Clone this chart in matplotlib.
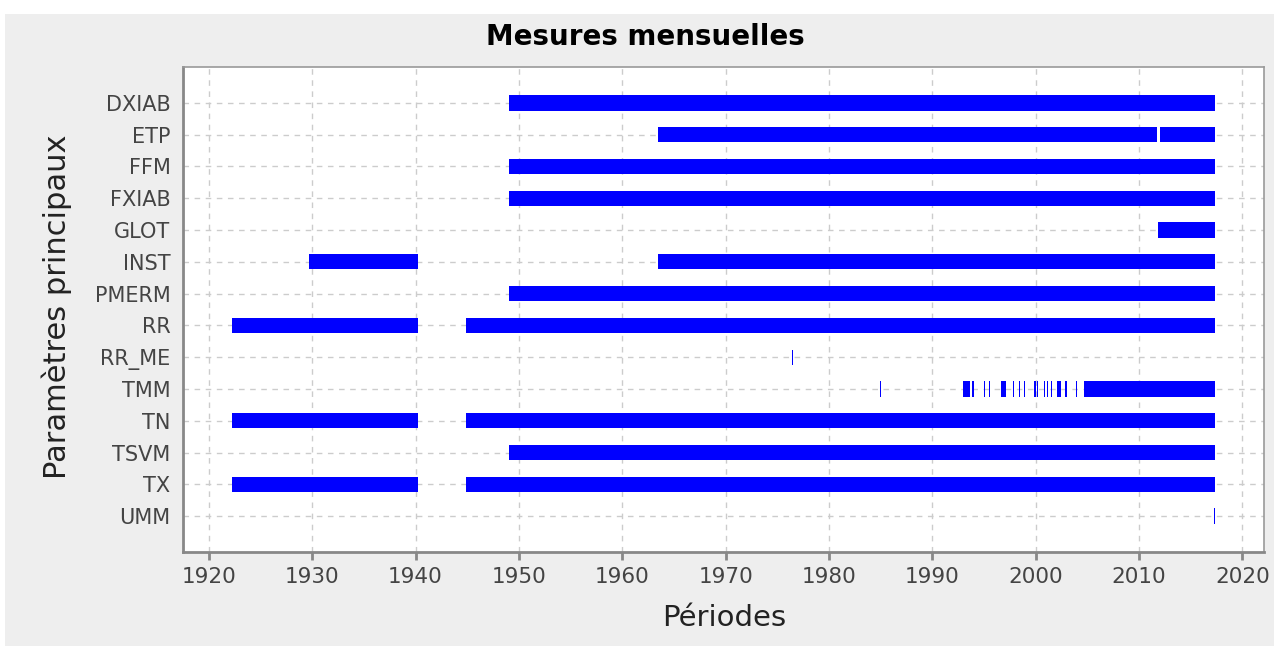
import matplotlib.pyplot as plt
from matplotlib.patches import Rectangle

plt.rcParams['font.family'] = ['DejaVu Sans']

# available periods (start year, end year) for each parameter
params = ["DXIAB", "ETP", "FFM", "FXIAB", "GLOT", "INST", "PMERM", "RR",
          "RR_ME", "TMM", "TN", "TSVM", "TX", "UMM"]
dxiab = [(1949.0, 2017.4)]
etp = [(1963.5, 2011.7), (2012.0, 2017.4)]
ffm = [(1949.0, 2017.4)]
fxiab = [(1949.0, 2017.4)]
glot = [(2011.8, 2017.4)]
inst = [(1929.7, 1940.2), (1963.5, 2017.4)]
pmerm = [(1949.0, 2017.4)]
rr = [(1922.25, 1940.25), (1944.9, 2017.4)]
rr_me = [(1976.45, 1976.55)]
tmm = [(1984.95, 1985.05), (1993.0, 1993.65), (1993.87, 1994.06),
       (1995.05, 1995.15), (1995.45, 1995.55), (1996.68, 1997.16),
       (1997.82, 1997.92), (1998.4, 1998.5), (1998.85, 1998.95),
       (1999.89, 1999.99), (2000.18, 2000.28), (2000.85, 2000.95),
       (2001.11, 2001.21), (2001.47, 2001.57), (2002.1, 2002.45),
       (2002.89, 2002.99), (2003.92, 2004.02), (2004.7, 2017.4)]
tn = [(1922.25, 1940.25), (1944.9, 2017.4)]
tsvm = [(1949.0, 2017.4)]
tx = [(1922.25, 1940.25), (1944.9, 2017.4)]
umm = [(2017.25, 2017.35)]
periods = [dxiab, etp, ffm, fxiab, glot, inst, pmerm, rr,
           rr_me, tmm, tn, tsvm, tx, umm]
year_ticks = [1920, 1930, 1940, 1950, 1960, 1970, 1980, 1990, 2000, 2010, 2020]

fig = plt.figure(figsize=(12.74, 6.46), dpi=100, facecolor='white')
# grey panel behind the chart
fig.patches.append(Rectangle((5 / 1274, 0), 1, 1 - 14 / 646,
                             transform=fig.transFigure, facecolor='#eeeeee',
                             edgecolor='none', zorder=-1))
ax = fig.add_axes([183 / 1274, 1 - 552 / 646, (1264 - 183) / 1274, (552 - 67) / 646])
ax.set_facecolor('white')

bar_h = 0.48
for i, segs in enumerate(periods):
    ax.broken_barh([(s, e - s) for s, e in segs], (i - bar_h / 2, bar_h),
                   facecolors='#0000ff', edgecolor='none', zorder=3)

ax.set_xlim(1917.5, 2022.1)
ax.set_ylim(len(params) - 1 + 1.13, -1.13)
ax.set_xticks(year_ticks)
ax.set_yticks(range(len(params)))
ax.set_yticklabels(params)

ax.grid(True, color='#cccccc', linestyle=(0, (4, 4)), linewidth=1, zorder=0)
ax.tick_params(axis='x', length=6, width=2, color='#888888', labelsize=15.5,
               labelcolor='#444444', pad=5)
ax.tick_params(axis='y', length=0, labelsize=15, labelcolor='#444444', pad=9)

for side in ['left', 'bottom']:
    ax.spines[side].set_color('#888888')
    ax.spines[side].set_linewidth(2)
for side in ['top', 'right']:
    ax.spines[side].set_color('#999999')
    ax.spines[side].set_linewidth(1.2)

fig.text(645 / 1274, 1 - 37 / 646, "Mesures mensuelles", ha='center', va='center',
         fontsize=20, fontweight='bold', color='black')
fig.text(724 / 1274, 1 - 618 / 646, "Périodes", ha='center', va='center',
         fontsize=21, color='#222222')
fig.text(57 / 1274, 1 - 307 / 646, "Paramètres principaux", ha='center', va='center',
         rotation=90, fontsize=22, color='#222222')

fig.savefig("out.png", dpi=100, facecolor=fig.get_facecolor())
